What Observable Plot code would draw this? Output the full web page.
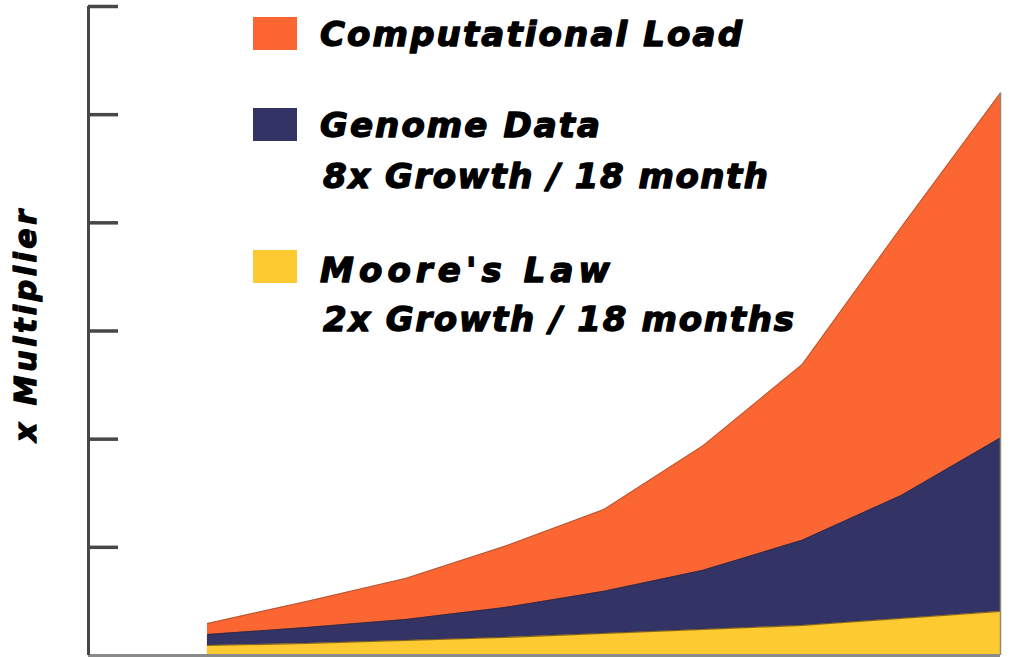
<!DOCTYPE html>
<html><head><meta charset="utf-8">
<script src="https://cdn.jsdelivr.net/npm/d3@7"></script>
<script src="https://cdn.jsdelivr.net/npm/@observablehq/plot@0.6"></script>
<style>
body{margin:0;background:#fff;}
#wrap{width:1010px;height:657px;}
</style></head><body>
<div id="wrap"></div>
<script>
// periods along the x axis (18-month steps, half-steps)
const periods = [0, 1, 2, 3, 4, 5, 6, 7, 8];
// top edge of each layer, in "x multiplier" units (tick = 10)
const computationalLoad = [2.96, 5.0, 7.13, 10.1, 13.5, 19.4, 26.9, 39.6, 52.0];
const genomeData        = [1.94, 2.59, 3.33, 4.44, 5.93, 7.87, 10.65, 14.8, 20.1];
const mooresLaw         = [0.93, 1.11, 1.39, 1.67, 2.04, 2.41, 2.78, 3.43, 4.07];
const yTicks = [10, 20, 30, 40, 50, 60];
const seriesNames = ["Computational Load", "Genome Data", "Moore's Law"];
const seriesNotes = ["", "8x Growth / 18 month", "2x Growth / 18 months"];
const seriesColors = ["#FB6632", "#333366", "#FDCA32"];
const yLabel = "x Multiplier";

const rows = periods.map((k, i) => ({k, load: computationalLoad[i], genome: genomeData[i], moore: mooresLaw[i]}));
const xMin = -1.2;
const font = "'DejaVu Sans', 'Liberation Sans', Arial, sans-serif";

const chart = Plot.plot({
  width: 1010, height: 657,
  marginLeft: 88, marginRight: 10, marginTop: 6, marginBottom: 2,
  x: {domain: [xMin, d3.max(periods)], axis: null},
  y: {domain: [0, d3.max(yTicks)], axis: null},
  marks: [
    Plot.areaY(rows, {x: "k", y: "load", fill: seriesColors[0]}),
    Plot.areaY(rows, {x: "k", y: "genome", fill: seriesColors[1]}),
    Plot.areaY(rows, {x: "k", y: "moore", fill: seriesColors[2]}),
    Plot.lineY(rows, {x: "k", y: "load", stroke: "#6b4a3a", strokeWidth: 1, strokeOpacity: 0.55}),
    Plot.lineY(rows, {x: "k", y: "genome", stroke: "#3a2020", strokeWidth: 1, strokeOpacity: 0.5}),
    Plot.lineY(rows, {x: "k", y: "moore", stroke: "#3a2a10", strokeWidth: 1.2, strokeOpacity: 0.6}),
    Plot.ruleX(rows.slice(-1), {x: "k", y1: 0, y2: "load", stroke: "#8f8a70", strokeWidth: 1.5}),
    Plot.ruleY([0], {stroke: "#8a8a8a", strokeWidth: 3}),
    Plot.ruleX([xMin], {stroke: "#474747", strokeWidth: 3}),
    Plot.tickY(yTicks, {y: d => d, stroke: "#474747", strokeWidth: 3.5, insetRight: 1010 - 88 - 10 - 30}),
    Plot.text([yLabel], {frameAnchor: "left", dx: -62, dy: -5, rotate: -90, text: d => d, textAnchor: "middle",
      fontSize: 30, fontWeight: "bold", fontStyle: "italic", fontFamily: font, fill: "#000"})
  ]
});
document.getElementById("wrap").appendChild(chart);

const svg = d3.select(chart);
// stretch the axis label to the reference's length and make it heavier
svg.selectAll("g[aria-label='text'] text").attr("textLength", 232).attr("lengthAdjust", "spacing")
  .attr("stroke", "#000").attr("stroke-width", 1.3).attr("stroke-linejoin", "round");

// legend drawn inside the chart's svg
const leg = svg.append("g").attr("text-anchor", "start");
const swatchY = [17, 108, 250];
const nameBase = [46, 137, 282];
const noteBase = [null, 188, 331];
const nameW = [422, 280, 290];
const noteW = [null, 445, 471];
function addText(x, y, str, w) {
  leg.append("text").attr("x", x).attr("y", y).text(str)
    .attr("font-family", font).attr("font-size", 34).attr("font-weight", "bold").attr("font-style", "italic")
    .attr("fill", "#000").attr("stroke", "#000").attr("stroke-width", 1.4).attr("stroke-linejoin", "round")
    .attr("textLength", w).attr("lengthAdjust", "spacing");
}
seriesNames.forEach((name, i) => {
  leg.append("rect").attr("x", 253).attr("y", swatchY[i]).attr("width", 44).attr("height", 33).attr("fill", seriesColors[i]);
  addText(320, nameBase[i], name, nameW[i]);
  if (seriesNotes[i]) addText(323, noteBase[i], seriesNotes[i], noteW[i]);
});
</script>
</body></html>
